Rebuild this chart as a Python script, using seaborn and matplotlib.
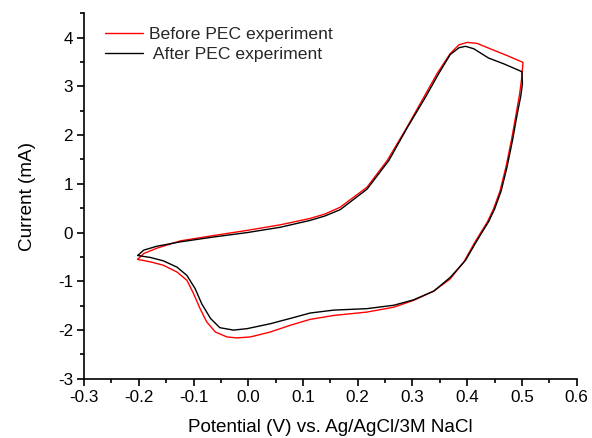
import matplotlib
matplotlib.use("Agg")
import matplotlib.pyplot as plt
import seaborn as sns
import pandas as pd
from matplotlib.ticker import MultipleLocator

sns.set_theme(style="ticks")
plt.rcParams['font.family'] = ['Liberation Sans', 'DejaVu Sans']

# Before PEC experiment (red): forward scan then reverse scan
v_before = [-0.202, -0.191, -0.167, -0.124, -0.063, -0.002, 0.059, 0.113, 0.140, 0.168,
            0.217, 0.254, 0.290, 0.321, 0.345, 0.369, 0.385, 0.400, 0.418, 0.442, 0.473, 0.502,
            0.500, 0.496, 0.489, 0.481, 0.471, 0.460, 0.448, 0.437, 0.426, 0.413, 0.394,
            0.369, 0.339, 0.302, 0.266, 0.217, 0.156, 0.113, 0.077, 0.040, 0.004, -0.021,
            -0.039, -0.060, -0.076, -0.088, -0.100, -0.112, -0.130, -0.155, -0.179, -0.202]
i_before = [-0.55, -0.43, -0.32, -0.17, -0.06, 0.045, 0.16, 0.29, 0.38, 0.52,
            0.93, 1.48, 2.16, 2.78, 3.26, 3.67, 3.85, 3.90, 3.88, 3.77, 3.63, 3.49,
            3.20, 2.85, 2.40, 1.90, 1.35, 0.85, 0.48, 0.22, 0.02, -0.22, -0.60,
            -0.95, -1.20, -1.39, -1.53, -1.63, -1.70, -1.78, -1.90, -2.04, -2.14, -2.16,
            -2.14, -2.04, -1.83, -1.56, -1.25, -0.98, -0.81, -0.67, -0.60, -0.55]

# After PEC experiment (black): forward scan then reverse scan
v_after = [-0.202, -0.191, -0.167, -0.124, -0.063, -0.002, 0.059, 0.113, 0.140, 0.168,
           0.217, 0.257, 0.291, 0.324, 0.348, 0.369, 0.385, 0.397, 0.412, 0.439, 0.467, 0.500,
           0.501, 0.498, 0.491, 0.483, 0.473, 0.462, 0.450, 0.439, 0.428, 0.415, 0.397,
           0.369, 0.339, 0.302, 0.266, 0.217, 0.156, 0.113, 0.077, 0.040, -0.002, -0.027,
           -0.052, -0.069, -0.085, -0.097, -0.112, -0.130, -0.155, -0.179, -0.202]
i_after = [-0.47, -0.36, -0.28, -0.19, -0.09, 0.00, 0.11, 0.25, 0.34, 0.47,
           0.89, 1.48, 2.16, 2.78, 3.26, 3.65, 3.79, 3.82, 3.77, 3.58, 3.46, 3.30,
           3.05, 2.80, 2.40, 1.90, 1.35, 0.85, 0.48, 0.22, 0.02, -0.22, -0.57,
           -0.92, -1.20, -1.38, -1.49, -1.56, -1.59, -1.65, -1.76, -1.87, -1.97, -2.00,
           -1.95, -1.76, -1.46, -1.15, -0.88, -0.71, -0.58, -0.51, -0.47]

x_ticks = [-0.3, -0.2, -0.1, 0.0, 0.1, 0.2, 0.3, 0.4, 0.5, 0.6]
x_labels = ["-0.3", "-0.2", "-0.1", "0.0", "0.1", "0.2", "0.3", "0.4", "0.5", "0.6"]
y_ticks = [-3, -2, -1, 0, 1, 2, 3, 4]
y_labels = ["-3", "-2", "-1", "0", "1", "2", "3", "4"]

df_b = pd.DataFrame({"V": v_before, "I": i_before})
df_a = pd.DataFrame({"V": v_after, "I": i_after})

fig = plt.figure(figsize=(5.92, 4.38), dpi=100)
ax = fig.add_axes([0.142, 0.135, 0.832, 0.835])

sns.lineplot(data=df_b, x="V", y="I", sort=False, estimator=None, color="red", lw=1.0,
             ax=ax, label="Before PEC experiment")
sns.lineplot(data=df_a, x="V", y="I", sort=False, estimator=None, color="black", lw=1.0,
             ax=ax, label=" After PEC experiment")

ax.set_xlim(-0.3, 0.6)
ax.set_ylim(-3, 4.5)
ax.xaxis.set_minor_locator(MultipleLocator(0.05))
ax.yaxis.set_minor_locator(MultipleLocator(0.5))
ax.set_xticks(x_ticks)
ax.set_xticklabels(x_labels)
ax.set_yticks(y_ticks)
ax.set_yticklabels(y_labels)
ax.tick_params(which="major", direction="out", length=5, width=1.2, labelsize=12.3,
               colors="black", pad=3)
ax.tick_params(which="minor", direction="out", length=3, width=1.2, colors="black")
for s in ["top", "right"]:
    ax.spines[s].set_visible(False)
for s in ["left", "bottom"]:
    ax.spines[s].set_linewidth(1.2)
    ax.spines[s].set_color("black")

ax.set_xlabel("Potential (V) vs. Ag/AgCl/3M NaCl", fontsize=13.6, color="black", labelpad=10)
ax.set_ylabel("Current (mA)", fontsize=13.6, color="black", labelpad=16)

ax.legend(loc="upper left", bbox_to_anchor=(0.042, 0.962), frameon=False, fontsize=12.6,
          handlelength=2.2, handletextpad=0.3, labelspacing=0.25, borderpad=0,
          borderaxespad=0)

fig.savefig("out.png", dpi=100)
